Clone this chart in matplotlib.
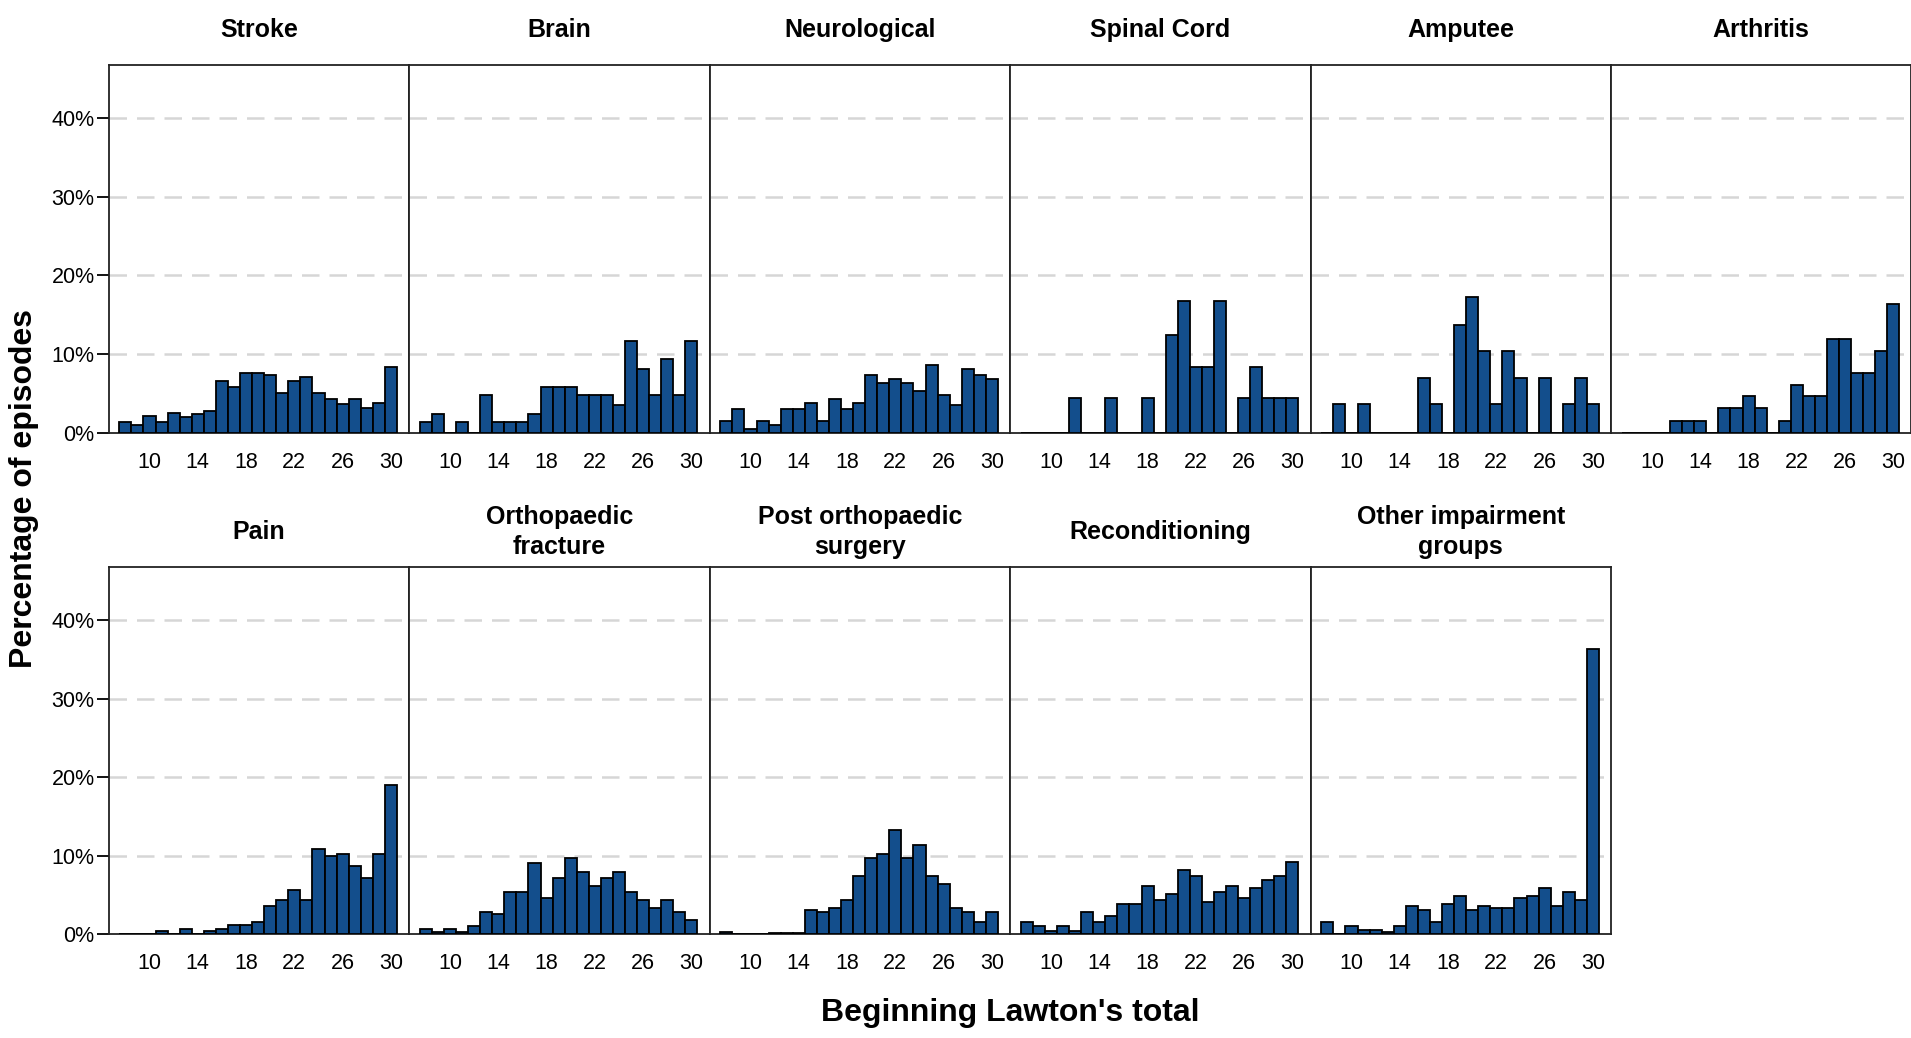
import matplotlib
matplotlib.use("Agg")
import matplotlib.pyplot as plt
from matplotlib.ticker import FuncFormatter, FixedLocator

plt.rcParams['font.family'] = ['Liberation Sans', 'DejaVu Sans']

scores = list(range(8, 31))
x_ticks = [10, 14, 18, 22, 26, 30]
y_ticks = [0, 10, 20, 30, 40]

titles_top = ["Stroke", "Brain", "Neurological", "Spinal Cord", "Amputee", "Arthritis"]
titles_bottom = ["Pain", "Orthopaedic\nfracture", "Post orthopaedic\nsurgery",
                 "Reconditioning", "Other impairment\ngroups"]

stroke = [1.3, 1.0, 2.1, 1.3, 2.5, 2.0, 2.3, 2.8, 6.6, 5.8, 7.6, 7.6, 7.3, 5.0, 6.6, 7.1, 5.0, 4.3, 3.6, 4.3, 3.1, 3.8, 8.3]
brain = [1.3, 2.3, 0, 1.3, 0, 4.8, 1.3, 1.3, 1.3, 2.3, 5.8, 5.8, 5.8, 4.8, 4.8, 4.8, 3.5, 11.6, 8.1, 4.8, 9.3, 4.8, 11.6]
neurological = [1.5, 3.0, 0.5, 1.5, 1.0, 3.0, 3.0, 3.8, 1.5, 4.3, 3.0, 3.8, 7.3, 6.3, 6.8, 6.3, 5.3, 8.6, 4.8, 3.5, 8.1, 7.3, 6.8]
spinal_cord = [0, 0, 0, 0, 4.4, 0, 0, 4.4, 0, 0, 4.4, 0, 12.4, 16.7, 8.4, 8.4, 16.7, 0, 4.4, 8.4, 4.4, 4.4, 4.4]
amputee = [0, 3.6, 0, 3.6, 0, 0, 0, 0, 6.9, 3.6, 0, 13.7, 17.2, 10.4, 3.6, 10.4, 6.9, 0, 6.9, 0, 3.6, 6.9, 3.6]
arthritis = [0, 0, 0, 0, 1.5, 1.5, 1.5, 0, 3.1, 3.1, 4.6, 3.1, 0, 1.5, 6.1, 4.6, 4.6, 11.9, 11.9, 7.6, 7.6, 10.4, 16.4]
pain = [0, 0, 0, 0.4, 0, 0.7, 0, 0.4, 0.7, 1.2, 1.2, 1.5, 3.6, 4.3, 5.6, 4.3, 10.8, 10.0, 10.2, 8.7, 7.2, 10.2, 19.0]
ortho_fracture = [0.7, 0.2, 0.7, 0.2, 1.0, 2.8, 2.5, 5.4, 5.4, 9.0, 4.6, 7.2, 9.7, 7.9, 6.1, 7.2, 7.9, 5.4, 4.3, 3.3, 4.3, 2.8, 1.8]
post_ortho_surgery = [0.2, 0, 0, 0, 0.15, 0.15, 0.15, 3.0, 2.75, 3.3, 4.3, 7.4, 9.7, 10.2, 13.3, 9.7, 11.3, 7.4, 6.4, 3.3, 2.75, 1.5, 2.75]
reconditioning = [1.5, 1.0, 0.4, 1.0, 0.4, 2.8, 1.5, 2.3, 3.8, 3.8, 6.1, 4.3, 5.1, 8.2, 7.4, 4.1, 5.4, 6.1, 4.6, 5.9, 6.9, 7.4, 9.2]
other_groups = [1.5, 0, 1.0, 0.5, 0.5, 0.25, 1.0, 3.6, 3.0, 1.5, 3.8, 4.8, 3.0, 3.6, 3.3, 3.3, 4.6, 4.8, 5.9, 3.6, 5.4, 4.3, 36.3]

series_top = [stroke, brain, neurological, spinal_cord, amputee, arthritis]
series_bottom = [pain, ortho_fracture, post_ortho_surgery, reconditioning, other_groups]

BAR = '#134e8c'
W, H = 1911, 1038
fig = plt.figure(figsize=(W / 100, H / 100), dpi=100)

left0 = 108.5
pw = 300.5
rows = [(65, 432.5), (567, 934)]  # top/bottom pixel y of axes


def make_panel(col, row, title, vals):
    top_px, bot_px = rows[row]
    ax = fig.add_axes([(left0 + col * pw) / W, 1 - bot_px / H, pw / W, (bot_px - top_px) / H])
    ax.bar(scores, vals, width=1.0, color=BAR, edgecolor='black', linewidth=1.3, zorder=3)
    ax.set_xlim(6.6, 31.5)
    ax.set_ylim(0, 46.8)
    ax.yaxis.set_major_locator(FixedLocator(y_ticks))
    ax.xaxis.set_major_locator(FixedLocator(x_ticks))
    for yv in y_ticks[1:]:
        ax.axhline(yv, color='#d6d6d6', lw=1.8, linestyle=(0, (7, 4)), zorder=1)
    ax.tick_params(axis='x', length=0, pad=14, labelsize=15.5)
    if col == 0:
        ax.yaxis.set_major_formatter(FuncFormatter(lambda v, p: f"{v:.0f}%"))
        ax.tick_params(axis='y', length=9, width=1.3, pad=1, labelsize=15.5)
    else:
        ax.tick_params(axis='y', length=0, labelleft=False)
    for s in ax.spines.values():
        s.set_linewidth(1.3)
        s.set_color('#222222')
    ax.text(0.5, 1 + 35 / (bot_px - top_px), title, transform=ax.transAxes,
            ha='center', va='center', fontsize=18, fontweight='bold', linespacing=1.35)
    return ax


for i, (t, v) in enumerate(zip(titles_top, series_top)):
    make_panel(i, 0, t, v)
for i, (t, v) in enumerate(zip(titles_bottom, series_bottom)):
    make_panel(i, 1, t, v)

fig.text(1010 / W, 1 - 1013 / H, "Beginning Lawton's total", ha='center', va='center',
         fontsize=23, fontweight='bold')
fig.text(24 / W, 1 - 489 / H, "Percentage of episodes", ha='center', va='center',
         rotation=90, fontsize=23, fontweight='bold')

fig.savefig("out.png", dpi=100, facecolor='white')
